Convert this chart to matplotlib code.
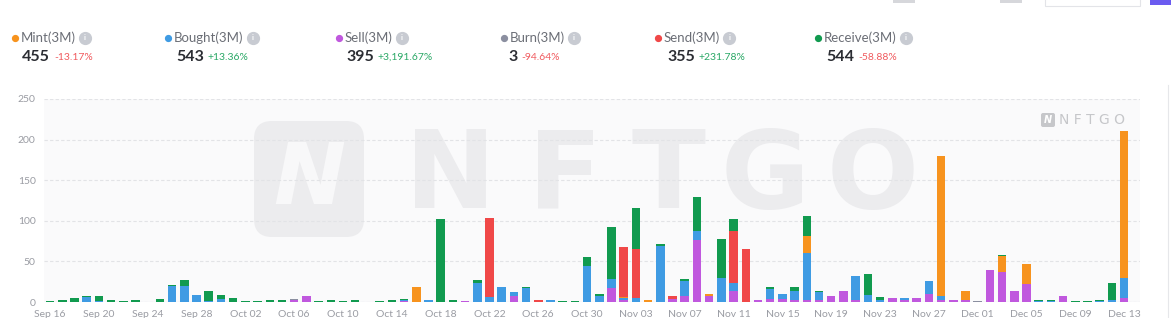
import matplotlib
matplotlib.use("Agg")
import matplotlib.pyplot as plt
from matplotlib.patches import FancyBboxPatch, Rectangle
from matplotlib.lines import Line2D
from matplotlib.transforms import IdentityTransform
import numpy as np
import datetime as dt

# ---------------- data ----------------
start = dt.date(2023, 9, 16)
n_days = 89
dates = [start + dt.timedelta(days=i) for i in range(n_days)]
tick_labels = [d.strftime("%b %d") for d in dates][::4]

sell = [0,0,0,0,0,0,0,0,0,0, 0,0,0,0,0,0,0,0,0,0,
        2,7,0,0,0,0,0,0,0,1, 0,0,0,0,1,0,0,0,7,0,
        0,0,0,0,0,0,17,3,0,0, 0,4,8,76,7,0,13,0,2,4,
        4,3,3,3,7,14,3,0,0,5, 2,5,10,3,3,3,0,39,37,14,
        22,0,0,7,0,0,0,0,5]
bought = [0,0,0,6,1,0,0,0,0,0, 20,20,9,1,4,0,0,0,0,0,
          1,0,0,0,0,0,0,0,0,2, 0,2,0,0,0,24,6,19,5,17,
          0,2,0,0,44,7,11,2,5,0, 69,0,18,12,0,29,11,0,0,12,
          6,10,57,9,0,0,29,9,3,0, 3,0,16,4,0,0,0,0,0,0,
          0,1,1,0,0,0,1,3,24]
burn = [0]*20 + [1] + [0]*20 + [1] + [0]*34 + [1] + [0]*12
mint = [0]*30 + [18] + [0]*16 + [1,0,2] + [0]*4 + [3] + [0]*7 + [21] + [0]*10 + \
       [173,0,11,0,0,20,0,25] + [0]*7 + [181]
send = [0]*36 + [98,0,0,0,2] + [0]*6 + [62,60,0,0,3] + [0]*4 + [64,65] + [0]*31
receive = [1,2,5,2,7,2,1,2,0,4, 1,7,0,13,5,5,1,1,2,3,
           0,0,1,2,1,2,0,1,2,1, 0,0,102,2,0,3,0,0,0,1,
           0,0,1,1,12,3,64,0,51,0, 3,0,2,41,0,49,14,0,0,3,
           0,6,25,1,0,0,0,26,3,0, 0,0,0,0,0,0,0,0,1,0,
           0,1,2,0,1,1,1,20,0]

series_names = ["Mint(3M)", "Bought(3M)", "Sell(3M)", "Burn(3M)", "Send(3M)", "Receive(3M)"]
series_totals = ["455", "543", "395", "3", "355", "544"]
series_changes = ["-13.17%", "+13.36%", "+3,191.67%", "-94.64%", "+231.78%", "-58.88%"]
y_ticks = [0, 50, 100, 150, 200, 250]

# ---------------- style ----------------
C_MINT = "#f7931e"
C_BOUGHT = "#3f9be3"
C_SELL = "#c058de"
C_BURN = "#8b8fa0"
C_SEND = "#f04848"
C_RECV = "#119a4f"
colors = [C_MINT, C_BOUGHT, C_SELL, C_BURN, C_SEND, C_RECV]

FONT = ["Lato", "DejaVu Sans"]
plt.rcParams["font.family"] = FONT

W, H = 1171, 318
fig = plt.figure(figsize=(W / 100, H / 100), dpi=100)
fig.patch.set_facecolor("white")

def fx(x):
    return x / W

def fy(y):
    return 1 - y / H

ax = fig.add_axes([fx(44), 16 / H, 1096 / W, 203 / H])
ax.set_facecolor("#fafafb")
x = np.arange(n_days)

# stacking order bottom -> top
stack = [(sell, C_SELL), (bought, C_BOUGHT), (burn, C_BURN), (mint, C_MINT),
         (send, C_SEND), (receive, C_RECV)]
bottom = np.zeros(n_days)
for vals, col in stack:
    v = np.array(vals, dtype=float)
    ax.bar(x, v, bottom=bottom, width=0.7, color=col, linewidth=0, zorder=3)
    bottom += v

ax.set_xlim(-0.5, 89.3)
ax.set_ylim(0, 250)
ax.set_yticks(y_ticks)
ax.set_yticklabels([str(t) for t in y_ticks])
ax.set_xticks(x[::4])
ax.set_xticklabels(tick_labels)
ax.tick_params(axis="both", length=0, labelsize=7.5, colors="#9a9ca3")
ax.tick_params(axis="x", pad=6)
ax.tick_params(axis="y", pad=6)
for s in ax.spines.values():
    s.set_visible(False)
ax.grid(axis="y", color="#e2e3e6", linestyle=(0, (3, 2)), linewidth=0.8, zorder=0.5)
ax.axhline(0, color="#e6e7ea", linewidth=0.8, zorder=0.6)

# ---------------- watermark ----------------
idt = IdentityTransform()
icon = FancyBboxPatch((254, H - 237), 110, 116, boxstyle="round,pad=0,rounding_size=18",
                      transform=idt, facecolor="#ececee", edgecolor="none", zorder=1)
ax.add_artist(icon)
ax.text(309, H - 180, "N", transform=idt, ha="center", va="center", fontsize=62,
        fontweight="bold", style="italic", color="#f8f8f9", family=["DejaVu Sans"], zorder=1.1)
for ch, cx in zip("NFTGO", [450, 565, 668, 765, 873]):
    ax.text(cx, H - 178, ch, transform=idt, ha="center", va="center", fontsize=78,
            fontweight="bold", color="#ececee", family=["DejaVu Sans"], zorder=1)

small_icon = FancyBboxPatch((1041, H - 127), 14, 14, boxstyle="round,pad=0,rounding_size=2",
                            transform=idt, facecolor="#c6c7ca", edgecolor="none", zorder=2)
ax.add_artist(small_icon)
ax.text(1048, H - 120, "N", transform=idt, ha="center", va="center", fontsize=7,
        fontweight="bold", style="italic", color="white", family=["DejaVu Sans"], zorder=2.1)
ax.text(1059, H - 120, "N F T G O", transform=idt, ha="left", va="center", fontsize=10,
        color="#c6c7ca", family=["DejaVu Sans"], zorder=2)

# ---------------- header ----------------
dot_x = [15, 168, 339, 504, 658, 818]
val_x = [22, 176, 346, 508, 667, 826]
pct_colors = ["#f05a5e", "#2aa866", "#2aa866", "#f05a5e", "#2aa866", "#f05a5e"]

fig.canvas.draw()
renderer = fig.canvas.get_renderer()
for i in range(6):
    fig.add_artist(Line2D([fx(dot_x[i])], [fy(38)], marker="o", markersize=4.2,
                          color=colors[i], linestyle="none", transform=fig.transFigure))
    lab = fig.text(fx(dot_x[i] + 6), fy(38), series_names[i], ha="left", va="center",
                   fontsize=9.5, color="#6b6e76")
    bb = lab.get_window_extent(renderer)
    ix = bb.x1 + 9
    fig.add_artist(Line2D([ix / W], [fy(38)], marker="o", markersize=8.5,
                          color="#c8cbd2", linestyle="none", transform=fig.transFigure))
    fig.text(ix / W, fy(38), "i", ha="center", va="center", fontsize=5.5,
             fontweight="bold", color="white")
    val = fig.text(fx(val_x[i]), fy(57), series_totals[i], ha="left", va="center",
                   fontsize=11.5, fontweight="bold", color="#2b2d33")
    vb = val.get_window_extent(renderer)
    fig.text((vb.x1 + 4) / W, fy(57.5), series_changes[i], ha="left", va="center",
             fontsize=7.5, color=pct_colors[i])

# partial UI elements cut at top
fig.add_artist(Rectangle((fx(893), fy(3)), 22 / W, 3 / H, transform=fig.transFigure,
                         facecolor="#d6d7db", edgecolor="none"))
fig.add_artist(Rectangle((fx(1000), fy(3)), 22 / W, 3 / H, transform=fig.transFigure,
                         facecolor="#d6d7db", edgecolor="none"))
fig.add_artist(Rectangle((fx(1045), fy(6)), 95 / W, 8 / H, transform=fig.transFigure,
                         facecolor="white", edgecolor="#e3e4e8", linewidth=0.8))
fig.add_artist(Rectangle((fx(1150), fy(5)), 21 / W, 6 / H, transform=fig.transFigure,
                         facecolor="#6b5bf0", edgecolor="none"))
fig.add_artist(Line2D([fx(1168), fx(1168)], [fy(85), 0], color="#e6e7ea", linewidth=0.8,
                      transform=fig.transFigure))

fig.savefig("out.png", dpi=100, facecolor="white")
